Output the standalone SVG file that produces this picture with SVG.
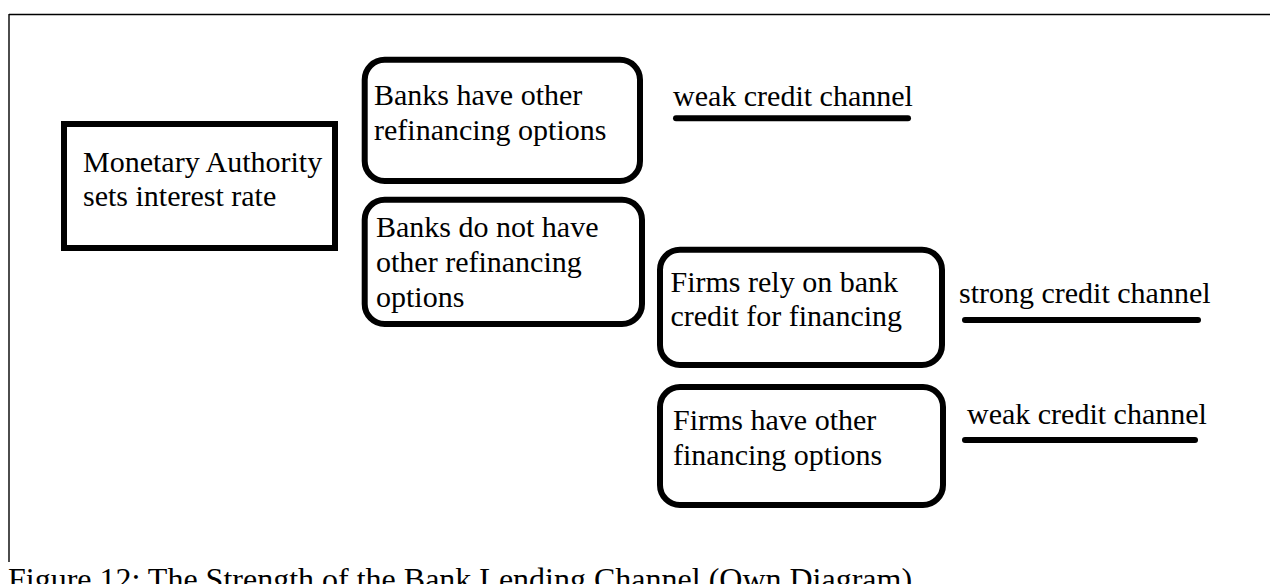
<svg xmlns="http://www.w3.org/2000/svg" width="1270" height="584" viewBox="0 0 1270 584">
<style>
  .t { font-family: "Liberation Serif", "Times New Roman", serif; font-size: 30px; fill: #000; }
  .cap { font-family: "Liberation Serif", "Times New Roman", serif; font-size: 32px; fill: #000; }
  .box { fill: #fff; stroke: #000; stroke-width: 6; }
  .ul { stroke: #000; stroke-width: 6; stroke-linecap: round; fill: none; }
  .frame { stroke: #000; stroke-width: 1.4; fill: none; }
</style>
<rect width="1270" height="584" fill="#fff"/>
<g id="frame">
  <line class="frame" x1="9" y1="14.5" x2="1270" y2="14.5"/>
  <line class="frame" x1="9" y1="14" x2="9" y2="562"/>
</g>
<g id="connectors"></g>
<g id="monetary">
  <rect class="box" x="64" y="124" width="271" height="124"/>
  <text class="t" x="83" y="172">Monetary Authority</text>
  <text class="t" x="83" y="206">sets interest rate</text>
</g>
<g id="banks-have">
  <rect class="box" x="364.7" y="59.7" width="275.3" height="121.3" rx="20"/>
  <text class="t" x="374" y="105">Banks have other</text>
  <text class="t" x="374" y="140">refinancing options</text>
</g>
<g id="banks-not">
  <rect class="box" x="364.7" y="199.7" width="277.3" height="124.3" rx="20"/>
  <text class="t" x="376" y="237">Banks do not have</text>
  <text class="t" x="376" y="272">other refinancing</text>
  <text class="t" x="376" y="307">options</text>
</g>
<g id="firms-rely">
  <rect class="box" x="660" y="249.7" width="282" height="115.3" rx="20"/>
  <text class="t" x="670.5" y="292">Firms rely on bank</text>
  <text class="t" x="670.5" y="326">credit for financing</text>
</g>
<g id="firms-other">
  <rect class="box" x="660" y="387" width="283" height="118" rx="20"/>
  <text class="t" x="673" y="430">Firms have other</text>
  <text class="t" x="673" y="465">financing options</text>
</g>
<g id="label-weak-1">
  <text class="t" x="673" y="106">weak credit channel</text>
  <line class="ul" x1="676" y1="118.3" x2="908" y2="118.3"/>
</g>
<g id="label-strong">
  <text class="t" x="959" y="303">strong credit channel</text>
  <line class="ul" x1="965" y1="320" x2="1198" y2="320"/>
</g>
<g id="label-weak-2">
  <text class="t" x="967" y="424">weak credit channel</text>
  <line class="ul" x1="965" y1="440" x2="1195" y2="440"/>
</g>
<g id="caption">
  <text class="cap" x="8" y="590">Figure 12: The Strength of the Bank Lending Channel (Own Diagram)</text>
</g>
</svg>
